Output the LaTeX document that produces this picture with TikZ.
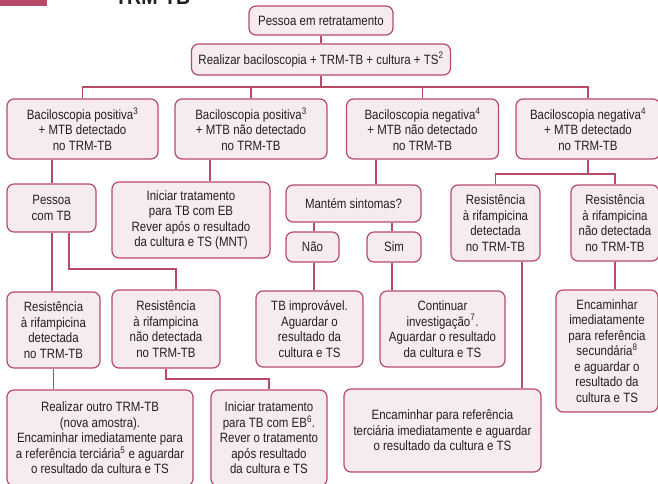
\documentclass[tikz,border=0pt]{standalone}
\usepackage{fontspec}
\setmainfont[FakeStretch=0.85]{Liberation Sans}
\usetikzlibrary{shapes}
\definecolor{rosa}{RGB}{184,74,104}
\definecolor{rosaclaro}{RGB}{246,236,239}
\definecolor{texto}{RGB}{35,31,32}
\tikzstyle{caixa}=[rectangle,rounded corners=7pt,draw=rosa,line width=1.2pt,
fill=rosaclaro,text=texto,font=\fontsize{13.5}{15.5}\selectfont,align=center,inner sep=0pt]
\tikzstyle{linha}=[draw=rosa,line width=1.2pt]

\begin{document}
\begin{tikzpicture}[x=1pt,y=-1pt]
\useasboundingbox (0,0) rectangle (658,483);
\clip (0,0) rectangle (658,483);
\fill[rosa] (0,-10) rectangle (47,6);
\node[anchor=base west,inner sep=0pt,text=texto,font=\fontsize{23}{23}\bfseries\selectfont] (titulo) at (115,4) {TRM-TB};

\node[caixa,minimum width=144pt,minimum height=29pt] (pessoa) at (321,20.5) {Pessoa em retratamento};
\node[caixa,minimum width=259pt,minimum height=31pt] (realizar) at (321,59.5) {Realizar baciloscopia + TRM-TB + cultura + TS\textsuperscript{2}};

\node[caixa,minimum width=151pt,minimum height=60pt] (bpos) at (82.5,129) {Baciloscopia positiva\textsuperscript{3}\\+ MTB detectado\\no TRM-TB};
\node[caixa,minimum width=152pt,minimum height=60pt] (bposn) at (251,129) {Baciloscopia positiva\textsuperscript{3}\\+ MTB não detectado\\no TRM-TB};
\node[caixa,minimum width=152pt,minimum height=60pt] (bneg) at (422.5,129) {Baciloscopia negativa\textsuperscript{4}\\+ MTB não detectado\\no TRM-TB};
\node[caixa,minimum width=144pt,minimum height=60pt] (bnegd) at (588,129) {Baciloscopia negativa\textsuperscript{4}\\+ MTB detectado\\no TRM-TB};

\node[caixa,minimum width=89pt,minimum height=48pt] (pessoatb) at (51.5,208) {Pessoa\\com TB};
\node[caixa,minimum width=158pt,minimum height=76pt] (iniciar) at (191,220) {Iniciar tratamento\\para TB com EB\\Rever após o resultado\\da cultura e TS (MNT)};
\node[caixa,minimum width=135pt,minimum height=37pt] (mantem) at (353.5,203.5) {Mantém sintomas?};
\node[caixa,minimum width=53pt,minimum height=30pt] (nao) at (312.5,247) {Não};
\node[caixa,minimum width=54pt,minimum height=30pt] (sim) at (394,247) {Sim};
\node[caixa,minimum width=107pt,minimum height=76pt] (improv) at (309.5,329) {TB improvável.\\Aguardar o\\resultado da\\cultura e TS};
\node[caixa,minimum width=125pt,minimum height=76pt] (continuar) at (442.5,329) {Continuar\\investigação\textsuperscript{7}.\\Aguardar o resultado\\da cultura e TS};

\node[caixa,minimum width=89pt,minimum height=76pt] (resdetD) at (495.5,223) {Resistência\\à rifampicina\\detectada\\no TRM-TB};
\node[caixa,minimum width=88pt,minimum height=76pt] (resnaoD) at (615,223) {Resistência\\à rifampicina\\não detectada\\no TRM-TB};
\node[caixa,minimum width=102pt,minimum height=122pt] (encsec) at (607,351) {Encaminhar\\imediatamente\\para referência\\secundária\textsuperscript{8}\\e aguardar o\\resultado da\\cultura e TS};
\node[caixa,minimum width=197pt,minimum height=83pt] (encter) at (442.5,430.5) {Encaminhar para referência\\terciária imediatamente e aguardar\\o resultado da cultura e TS};

\node[caixa,minimum width=93pt,minimum height=76pt] (resdetE) at (53.5,330) {Resistência\\à rifampicina\\detectada\\no TRM-TB};
\node[caixa,minimum width=108pt,minimum height=78pt] (resnaoE) at (166,329) {Resistência\\à rifampicina\\não detectada\\no TRM-TB};
\node[caixa,minimum width=186pt,minimum height=96pt] (outro) at (100,438) {Realizar outro TRM-TB\\(nova amostra).\\Encaminhar imediatamente para\\a referência terciária\textsuperscript{5} e aguardar\\o resultado da cultura e TS};
\node[caixa,minimum width=116pt,minimum height=96pt] (iniciarEB) at (269,438) {Iniciar tratamento\\para TB com EB\textsuperscript{6}.\\Rever o tratamento\\após resultado\\da cultura e TS};

\coordinate (barra) at (0,87);
\coordinate (ramo) at (0,174);
\coordinate (joelhoA) at (0,269);
\coordinate (joelhoB) at (0,379);

\draw[linha] (pessoa) -- (realizar);
\draw[linha] (realizar.south) -- (realizar.south |- barra);
\draw[linha] (bpos.north) |- (barra -| bnegd.north) -- (bnegd.north);
\draw[linha] (bposn.north) -- (bposn.north |- barra);
\draw[linha] (bneg.north) -- (bneg.north |- barra);

\draw[linha] ([xshift=0.5pt]pessoatb.north) -- ([xshift=0.5pt]pessoatb.north |- bpos.south);
\draw[linha] ([xshift=19pt]iniciar.north) -- ([xshift=19pt]iniciar.north |- bposn.south);
\draw[linha] ([xshift=22.5pt]mantem.north) -- ([xshift=22.5pt]mantem.north |- bneg.south);
\draw[linha] ([xshift=1.5pt]nao.north) -- ([xshift=1.5pt]nao.north |- mantem.south);
\draw[linha] ([xshift=-2pt]sim.north) -- ([xshift=-2pt]sim.north |- mantem.south);
\draw[linha] ([xshift=1.5pt]nao.south) -- ([xshift=1.5pt]nao.south |- improv.north);
\draw[linha] ([xshift=-2pt]sim.south) -- ([xshift=-2pt]sim.south |- continuar.north);

\draw[linha] (bnegd.south) -- (bnegd.south |- ramo);
\draw[linha] (resdetD.north) |- (ramo -| resnaoD.north) -- (resnaoD.north);
\draw[linha] ([xshift=26.5pt]resdetD.south) -- ([xshift=26.5pt]resdetD.south |- encter.north);
\draw[linha] (resnaoD.south) -- (resnaoD.south |- encsec.north);

\draw[linha] ([xshift=0.5pt]pessoatb.south) -- ([xshift=0.5pt]pessoatb.south |- resdetE.north);
\draw[linha] ([xshift=17.5pt]pessoatb.south) |- ([xshift=10pt]resnaoE.north |- joelhoA) -- ([xshift=10pt]resnaoE.north);
\draw[linha] (resdetE.south) -- (resdetE.south |- outro.north);
\draw[linha] (resnaoE.south) |- (iniciarEB.north |- joelhoB) -- (iniciarEB.north);
\end{tikzpicture}
\end{document}
